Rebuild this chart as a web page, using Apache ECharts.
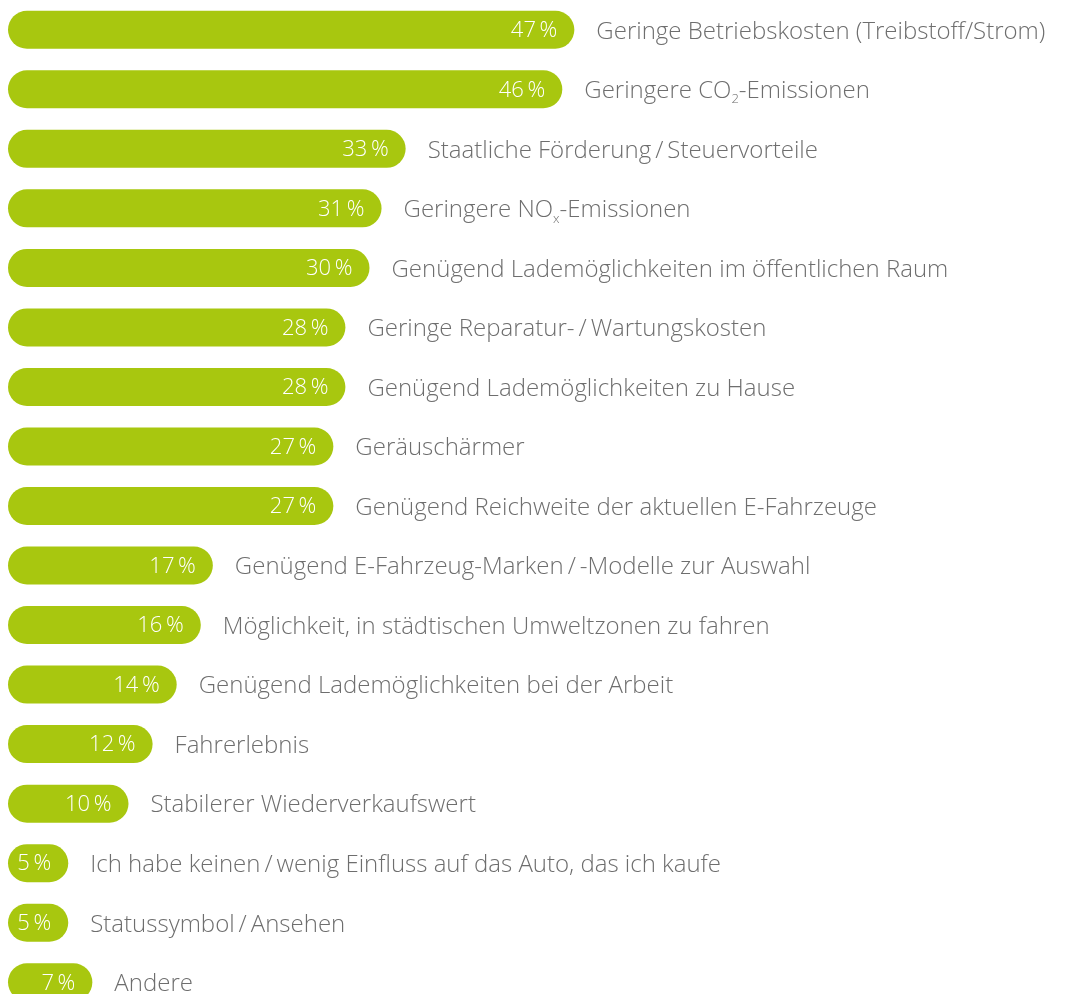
<!DOCTYPE html>
<html>
<head>
<meta charset="utf-8">
<script src="https://cdn.jsdelivr.net/npm/echarts@6/dist/echarts.min.js"></script>
<style>
    html, body { margin: 0; padding: 0; background: #fff; overflow: hidden; }
    #chart { width: 1073px; height: 1024px; }
</style>
</head>
<body>
<div id="chart"></div>
<script>
// Gründe für ein E-Fahrzeug (Anteil in %)
var categories = [
    'Geringe Betriebskosten (Treibstoff/Strom)',
    'Geringere CO{sub|2}-Emissionen',
    'Staatliche Förderung\u2009/\u2009Steuervorteile',
    'Geringere NO{sub|x}-Emissionen',
    'Genügend Lademöglichkeiten im öffentlichen Raum',
    'Geringe Reparatur-\u2009/\u2009Wartungskosten',
    'Genügend Lademöglichkeiten zu Hause',
    'Geräuschärmer',
    'Genügend Reichweite der aktuellen E-Fahrzeuge',
    'Genügend E-Fahrzeug-Marken\u2009/\u2009-Modelle zur Auswahl',
    'Möglichkeit, in städtischen Umweltzonen zu fahren',
    'Genügend Lademöglichkeiten bei der Arbeit',
    'Fahrerlebnis',
    'Stabilerer Wiederverkaufswert',
    'Ich habe keinen\u2009/\u2009wenig Einfluss auf das Auto, das ich kaufe',
    'Statussymbol\u2009/\u2009Ansehen',
    'Andere'
];
var values = [47, 46, 33, 31, 30, 28, 28, 27, 27, 17, 16, 14, 12, 10, 5, 5, 7];

var green = '#a8c70f';
var grey = '#6e6e6e';
var fontFamily = 'Open Sans';

var chart = echarts.init(document.getElementById('chart'));

var option = {
    animation: false,
    grid: { left: 8, top: 0, width: 964, height: 1012 },
    xAxis: { type: 'value', min: 0, max: 80, show: false },
    yAxis: {
        type: 'category',
        data: categories,
        inverse: true,
        show: false
    },
    series: [
        {
            // Balken mit Prozentwert
            type: 'bar',
            data: values,
            barWidth: 38,
            barGap: '-100%',
            itemStyle: { color: green, borderRadius: 19 },
            label: {
                show: true,
                position: 'insideRight',
                distance: 17,
                offset: [0, 1],
                color: '#fff',
                fontFamily: fontFamily,
                fontWeight: 300,
                fontSize: 22,
                formatter: '{c}\u2009%'
            }
        },
        {
            // unsichtbare Kopie nur für die Beschriftung rechts
            type: 'bar',
            data: values,
            barWidth: 38,
            barGap: '-100%',
            itemStyle: { color: 'transparent' },
            silent: true,
            label: {
                show: true,
                position: 'right',
                distance: 22,
                offset: [0, 2],
                color: grey,
                fontFamily: fontFamily,
                fontWeight: 300,
                fontSize: 24,
                formatter: function (p) { return p.name; },
                rich: {
                    sub: {
                        color: grey,
                        fontFamily: fontFamily,
                        fontWeight: 300,
                        fontSize: 13,
                        verticalAlign: 'bottom',
                        padding: [17, 0, 0, 0]
                    }
                }
            }
        }
    ]
};

chart.setOption(option);
</script>
</body>
</html>
